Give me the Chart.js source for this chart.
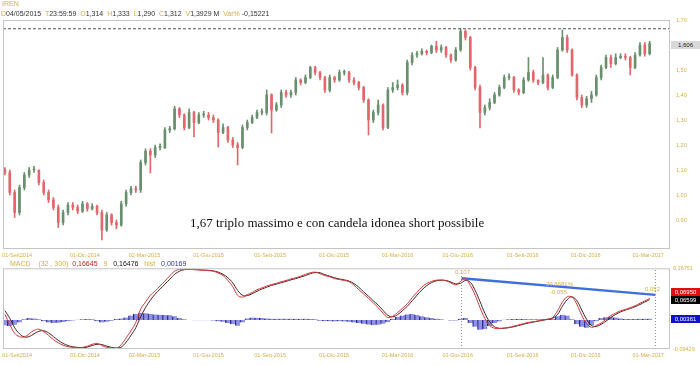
<!DOCTYPE html>
<html>
<head>
<meta charset="utf-8">
<script src="https://cdn.jsdelivr.net/npm/chart.js@4"></script>
<style>
  body { margin: 0; width: 700px; height: 365px; background: #fff; position: relative; overflow: hidden; font-family: "Liberation Sans", Arial, sans-serif; }
  .t { position: absolute; font-size: 7px; line-height: 8px; white-space: nowrap; color: #333; }
  .g { color: #d2b04a; }
  .box { position: absolute; font-size: 6px; line-height: 8px; height: 8px; width: 29px; text-align: center; }
  #pw { position: absolute; left: 0; top: 0; width: 700px; height: 262px; }
  #mw { position: absolute; left: 0; top: 262px; width: 700px; height: 103px; }
</style>
</head>
<body>
<div id="pw"><canvas id="price" width="700" height="262"></canvas></div>
<div id="mw"><canvas id="macd" width="700" height="103"></canvas></div>

<div class="t g" style="left:2px;top:0px;">IREN</div>
<div class="t" style="left:1px;top:10px;"><span class="g">D</span>04/05/2015&nbsp; <span class="g">T</span>23:59:59&nbsp; <span class="g">O</span>1,314&nbsp; <span class="g">H</span>1,333&nbsp; <span class="g">L</span>1,290&nbsp; <span class="g">C</span>1,312&nbsp; <span class="g">V</span>1,3929 M&nbsp; <span class="g">Var%</span> -0,15221</div>
<div class="t" style="left:190px;top:215px;font-family:'Liberation Serif','Times New Roman',serif;font-size:13px;line-height:15px;color:#111;">1,67 triplo massimo e con candela idonea short possibile</div>
<div class="box" style="left:671px;top:41px;background:#d9d9d9;color:#222;">1,606</div>

<div class="t" style="left:10px;top:260px;"><span class="g">MACD&nbsp;&nbsp;&nbsp; (32 , 300)</span>&nbsp; <span style="color:#c02020">0,16645</span>&nbsp;&nbsp; <span class="g">9</span>&nbsp;&nbsp; <span style="color:#111">0,16476</span>&nbsp;&nbsp; <span class="g">hist</span>&nbsp;&nbsp; <span style="color:#3030a0">0,00169</span></div>
<div class="t g" style="left:455px;top:268px;font-size:6px;">0,107</div>
<div class="t g" style="left:546px;top:280px;font-size:6px;">29,8681%</div>
<div class="t g" style="left:550px;top:288px;font-size:6px;">-0,055</div>
<div class="t g" style="left:645px;top:285px;font-size:6px;">0,052</div>
<div class="box" style="left:671px;top:288px;background:#e01010;color:#fff;">0,06950</div>
<div class="box" style="left:671px;top:296px;background:#000;color:#fff;">0,06599</div>
<div class="box" style="left:671px;top:315px;background:#1010d0;color:#fff;">0,00361</div>

<script>
// weekly candles, Aug 2014 -> Mar 2017 (week index 0..133)
const open = [
  1.10, 1.09, 1.01, 0.93, 1.03, 1.08, 1.10, 1.10, 1.05, 1.01,
  0.98, 0.95, 0.89, 0.93, 0.96, 0.95, 0.935, 0.965, 0.945, 0.955,
  0.93, 0.86, 0.92, 0.89, 0.88, 0.965, 1.01, 1.025, 1.02, 1.13,
  1.175, 1.16, 1.19, 1.19, 1.26, 1.265, 1.345, 1.32, 1.27, 1.33,
  1.29, 1.32, 1.32, 1.31, 1.30, 1.25, 1.27, 1.22, 1.20, 1.19,
  1.27, 1.29, 1.31, 1.33, 1.33, 1.40, 1.34, 1.36, 1.41, 1.40,
  1.41, 1.46, 1.45, 1.47, 1.51, 1.49, 1.47, 1.42, 1.47, 1.46,
  1.49, 1.49, 1.46, 1.45, 1.43, 1.38, 1.30, 1.33, 1.36, 1.27,
  1.42, 1.43, 1.44, 1.41, 1.53, 1.56, 1.565, 1.575, 1.57, 1.595,
  1.58, 1.59, 1.56, 1.54, 1.58, 1.655, 1.63, 1.51, 1.43, 1.33,
  1.35, 1.37, 1.40, 1.43, 1.47, 1.47, 1.42, 1.41, 1.46, 1.49,
  1.46, 1.45, 1.48, 1.43, 1.47, 1.58, 1.63, 1.58, 1.48, 1.39,
  1.36, 1.385, 1.40, 1.47, 1.51, 1.55, 1.525, 1.55, 1.555, 1.55,
  1.51, 1.56, 1.60, 1.565
];
const high = [
  1.11, 1.10, 1.02, 1.04, 1.09, 1.11, 1.115, 1.10, 1.06, 1.02,
  0.99, 0.96, 0.94, 0.97, 0.97, 0.96, 0.975, 0.97, 0.965, 0.96,
  0.94, 0.93, 0.925, 0.90, 0.975, 1.02, 1.035, 1.035, 1.14, 1.185,
  1.185, 1.20, 1.205, 1.27, 1.275, 1.355, 1.35, 1.325, 1.345, 1.335,
  1.33, 1.335, 1.33, 1.32, 1.305, 1.285, 1.275, 1.23, 1.21, 1.28,
  1.30, 1.32, 1.34, 1.345, 1.42, 1.405, 1.37, 1.42, 1.42, 1.42,
  1.47, 1.465, 1.48, 1.515, 1.515, 1.495, 1.475, 1.48, 1.475, 1.50,
  1.50, 1.495, 1.47, 1.455, 1.435, 1.385, 1.34, 1.38, 1.365, 1.43,
  1.45, 1.46, 1.445, 1.54, 1.57, 1.575, 1.585, 1.58, 1.60, 1.615,
  1.60, 1.595, 1.565, 1.59, 1.665, 1.66, 1.635, 1.515, 1.44, 1.36,
  1.385, 1.41, 1.44, 1.48, 1.485, 1.475, 1.425, 1.47, 1.55, 1.50,
  1.46, 1.55, 1.485, 1.48, 1.59, 1.66, 1.64, 1.585, 1.485, 1.40,
  1.395, 1.415, 1.48, 1.52, 1.56, 1.56, 1.565, 1.565, 1.565, 1.555,
  1.57, 1.61, 1.61, 1.615
];
const low = [
  1.08, 1.00, 0.91, 0.92, 1.02, 1.07, 1.09, 1.04, 1.00, 0.97,
  0.94, 0.87, 0.88, 0.92, 0.94, 0.925, 0.93, 0.935, 0.94, 0.92,
  0.82, 0.855, 0.88, 0.865, 0.875, 0.955, 1.00, 1.01, 1.01, 1.12,
  1.088, 1.15, 1.18, 1.185, 1.25, 1.26, 1.31, 1.26, 1.265, 1.232,
  1.285, 1.31, 1.30, 1.29, 1.192, 1.245, 1.21, 1.19, 1.12, 1.185,
  1.26, 1.285, 1.305, 1.32, 1.32, 1.248, 1.335, 1.35, 1.39, 1.39,
  1.40, 1.44, 1.445, 1.465, 1.48, 1.46, 1.41, 1.412, 1.45, 1.455,
  1.48, 1.45, 1.44, 1.42, 1.37, 1.24, 1.29, 1.32, 1.26, 1.265,
  1.41, 1.42, 1.40, 1.40, 1.52, 1.55, 1.56, 1.56, 1.565, 1.57,
  1.57, 1.55, 1.53, 1.535, 1.575, 1.62, 1.50, 1.42, 1.268, 1.32,
  1.34, 1.365, 1.395, 1.425, 1.46, 1.41, 1.40, 1.405, 1.455, 1.45,
  1.44, 1.445, 1.42, 1.425, 1.465, 1.575, 1.57, 1.475, 1.38, 1.35,
  1.35, 1.37, 1.395, 1.46, 1.505, 1.51, 1.52, 1.545, 1.54, 1.48,
  1.505, 1.555, 1.555, 1.56
];
const close = [
  1.09, 1.01, 0.93, 1.03, 1.08, 1.10, 1.10, 1.05, 1.01, 0.98,
  0.95, 0.89, 0.93, 0.96, 0.95, 0.935, 0.965, 0.945, 0.955, 0.93,
  0.86, 0.92, 0.89, 0.88, 0.965, 1.01, 1.025, 1.02, 1.13, 1.175,
  1.16, 1.19, 1.19, 1.26, 1.265, 1.345, 1.32, 1.27, 1.33, 1.29,
  1.32, 1.32, 1.31, 1.30, 1.25, 1.27, 1.22, 1.20, 1.19, 1.27,
  1.29, 1.31, 1.33, 1.33, 1.40, 1.34, 1.36, 1.41, 1.40, 1.41,
  1.46, 1.45, 1.47, 1.51, 1.49, 1.47, 1.42, 1.47, 1.46, 1.49,
  1.49, 1.46, 1.45, 1.43, 1.38, 1.30, 1.33, 1.36, 1.27, 1.42,
  1.43, 1.44, 1.41, 1.53, 1.56, 1.565, 1.575, 1.57, 1.595, 1.58,
  1.59, 1.56, 1.54, 1.58, 1.655, 1.63, 1.51, 1.43, 1.33, 1.35,
  1.37, 1.40, 1.43, 1.47, 1.47, 1.42, 1.41, 1.46, 1.49, 1.46,
  1.45, 1.48, 1.43, 1.47, 1.58, 1.63, 1.58, 1.48, 1.39, 1.36,
  1.385, 1.40, 1.47, 1.51, 1.55, 1.525, 1.55, 1.555, 1.55, 1.51,
  1.56, 1.60, 1.565, 1.606
];

const macd = [
  0.018, -0.015, -0.043, -0.054, -0.055, -0.045, -0.034, -0.030, -0.038, -0.050,
  -0.064, -0.074, -0.082, -0.087, -0.089, -0.091, -0.089, -0.085, -0.079, -0.076,
  -0.083, -0.089, -0.091, -0.093, -0.080, -0.058, -0.035, -0.008, 0.035, 0.058,
  0.080, 0.094, 0.110, 0.126, 0.143, 0.158, 0.164, 0.164, 0.164, 0.163,
  0.162, 0.161, 0.160, 0.158, 0.152, 0.144, 0.128, 0.108, 0.080, 0.074,
  0.082, 0.089, 0.098, 0.104, 0.110, 0.115, 0.119, 0.124, 0.128, 0.133,
  0.137, 0.142, 0.148, 0.153, 0.155, 0.150, 0.144, 0.140, 0.134, 0.131,
  0.128, 0.124, 0.113, 0.098, 0.084, 0.070, 0.055, 0.040, 0.022, 0.008,
  0.012, 0.024, 0.038, 0.052, 0.072, 0.090, 0.106, 0.118, 0.125, 0.129,
  0.129, 0.127, 0.120, 0.114, 0.125, 0.135, 0.112, 0.080, 0.040, 0.005,
  -0.018, -0.027, -0.028, -0.026, -0.024, -0.020, -0.016, -0.012, -0.008, -0.006,
  -0.003, 0.000, 0.003, 0.008, 0.030, 0.058, 0.075, 0.074, 0.050, 0.015,
  -0.012, -0.024, -0.018, -0.010, 0.002, 0.014, 0.022, 0.030, 0.034, 0.040,
  0.046, 0.054, 0.062, 0.070
];
const signal = [
  0.030, 0.005, -0.025, -0.045, -0.055, -0.054, -0.045, -0.037, -0.035, -0.042,
  -0.054, -0.066, -0.076, -0.083, -0.087, -0.089, -0.090, -0.088, -0.083, -0.079,
  -0.080, -0.085, -0.089, -0.091, -0.088, -0.072, -0.050, -0.025, 0.010, 0.040,
  0.064, 0.084, 0.100, 0.116, 0.132, 0.148, 0.158, 0.163, 0.164, 0.164,
  0.163, 0.162, 0.161, 0.159, 0.155, 0.148, 0.137, 0.120, 0.096, 0.080,
  0.079, 0.085, 0.093, 0.100, 0.106, 0.112, 0.116, 0.121, 0.125, 0.130,
  0.134, 0.139, 0.144, 0.150, 0.154, 0.153, 0.147, 0.142, 0.137, 0.133,
  0.130, 0.126, 0.118, 0.106, 0.091, 0.077, 0.062, 0.048, 0.031, 0.015,
  0.010, 0.017, 0.030, 0.044, 0.062, 0.080, 0.097, 0.111, 0.121, 0.127,
  0.129, 0.128, 0.123, 0.117, 0.119, 0.128, 0.122, 0.096, 0.060, 0.022,
  -0.006, -0.022, -0.027, -0.027, -0.025, -0.022, -0.018, -0.014, -0.010, -0.007,
  -0.004, -0.001, 0.002, 0.006, 0.018, 0.044, 0.066, 0.075, 0.062, 0.032,
  0.002, -0.018, -0.021, -0.014, -0.004, 0.008, 0.018, 0.026, 0.032, 0.037,
  0.043, 0.050, 0.058, 0.066
];
const hist = [
  -0.018, -0.020, -0.016, -0.008, 0.002, 0.006, 0.005, 0.002, -0.004, -0.008,
  -0.010, -0.009, -0.007, -0.004, -0.002, 0.001, 0.002, 0.003, 0.002, -0.004,
  -0.008, -0.006, -0.003, 0.003, 0.005, 0.008, 0.014, 0.019, 0.023, 0.022,
  0.020, 0.018, 0.017, 0.016, 0.015, 0.012, 0.006, 0.002, 0.000, -0.001,
  -0.001, -0.001, -0.001, -0.002, -0.004, -0.006, -0.010, -0.014, -0.019, -0.008,
  0.005, 0.008, 0.007, 0.006, 0.005, 0.004, 0.004, 0.004, 0.004, 0.004,
  0.004, 0.004, 0.004, 0.003, 0.002, -0.003, -0.004, -0.004, -0.005, -0.004,
  -0.005, -0.006, -0.008, -0.010, -0.012, -0.015, -0.017, -0.016, -0.012, -0.007,
  0.004, 0.010, 0.014, 0.018, 0.019, 0.016, 0.012, 0.009, 0.006, 0.004,
  0.002, 0.000, -0.002, -0.002, 0.004, 0.006, -0.010, -0.022, -0.032, -0.030,
  -0.020, -0.010, -0.005, 0.001, 0.002, 0.003, 0.003, 0.003, 0.002, 0.002,
  0.002, 0.002, 0.002, 0.004, 0.012, 0.017, 0.014, 0.002, -0.014, -0.022,
  -0.025, -0.018, -0.004, 0.006, 0.009, 0.010, 0.008, 0.005, 0.003, 0.003,
  0.003, 0.004, 0.004, 0.004
];

// trendline on MACD (week index, value) and resistance level
const trendX = [94.2, 134.2];
const trendY = [0.1356, 0.0813];
const resistance = 1.665;

const tickWeeks = [2.5, 16.5, 28.8, 42, 54.7, 67.9, 81, 93.4, 106.8, 119.8, 132.7];
const tickLabels = ["01-Sett2014", "01-Dic-2014", "02-Mar-2015", "01-Giu-2015", "01-Sett-2015",
  "01-Dic-2015", "01-Mar-2016", "01-Giu-2016", "01-Sett-2016", "01-Dic-2016", "01-Mar-2017"];
const priceTicks = [0.9, 1.0, 1.1, 1.2, 1.3, 1.4, 1.5, 1.6, 1.7];

const gold = "#d2b04a";
const xMin = -0.4, xMax = 137.2;
const macdMin = -0.09429, macdMax = 0.16751;

const frame = {
  id: "frame",
  afterDraw(chart) {
    const a = chart.chartArea, c = chart.ctx;
    c.save();
    c.strokeStyle = "#c4c4c4";
    c.lineWidth = 1;
    c.strokeRect(a.left + 0.5, a.top + 0.5, a.right - a.left - 1, a.bottom - a.top - 1);
    c.restore();
  }
};

const candleColor = close.map((c, i) => (c >= open[i] ? "#6a8f6e" : "#e2676d"));

const xAxis = (h) => ({
  type: "linear",
  min: xMin,
  max: xMax,
  offset: false,
  grid: { display: false, drawTicks: false },
  border: { display: false },
  afterBuildTicks: (s) => { s.ticks = tickWeeks.map((v) => ({ value: v })); },
  afterFit: (s) => { s.height = h; s.paddingLeft = 0; s.paddingRight = 0; },
  ticks: {
    autoSkip: false,
    maxRotation: 0,
    padding: 3,
    color: gold,
    font: { size: 5.5, family: "Liberation Sans" },
    callback: (v, i) => tickLabels[i],
  },
});

new Chart(document.getElementById("price"), {
  type: "bar",
  data: {
    datasets: [
      {
        type: "line",
        data: [{ x: xMin, y: resistance }, { x: xMax, y: resistance }],
        borderColor: "#555",
        borderWidth: 1,
        borderDash: [3, 2],
        pointRadius: 0,
      },
      {
        data: close.map((c, i) => ({ x: i, y: [low[i], high[i]] })),
        backgroundColor: candleColor,
        barThickness: 1,
        grouped: false,
      },
      {
        data: close.map((c, i) => ({ x: i, y: [open[i], c] })),
        backgroundColor: candleColor,
        barThickness: 2,
        minBarLength: 1,
        grouped: false,
      },
    ],
  },
  options: {
    responsive: false,
    animation: false,
    layout: { padding: { left: 3, top: 20, right: 0, bottom: 0 } },
    plugins: { legend: { display: false }, tooltip: { enabled: false } },
    scales: {
      x: xAxis(13),
      y: {
        position: "right",
        min: 0.784,
        max: 1.7,
        grid: { display: false, drawTicks: false },
        border: { display: false },
        afterBuildTicks: (s) => { s.ticks = priceTicks.map((v) => ({ value: v })); },
        afterFit: (s) => { s.width = 30; },
        ticks: {
          padding: 6,
          color: gold,
          font: { size: 5.5, family: "Liberation Sans" },
          callback: (v) => v.toFixed(2).replace(".", ","),
        },
      },
    },
  },
  plugins: [frame],
});

new Chart(document.getElementById("macd"), {
  type: "bar",
  data: {
    datasets: [
      {
        type: "line",
        data: [{ x: trendX[0], y: macdMin }, { x: trendX[0], y: macdMax }],
        borderColor: "#8a8a8a",
        borderWidth: 1,
        borderDash: [1, 2],
        pointRadius: 0,
      },
      {
        type: "line",
        data: [{ x: trendX[1], y: macdMin }, { x: trendX[1], y: macdMax }],
        borderColor: "#8a8a8a",
        borderWidth: 1,
        borderDash: [1, 2],
        pointRadius: 0,
      },
      {
        type: "line",
        data: macd.map((v, i) => ({ x: i, y: v })),
        borderColor: "#d0383c",
        borderWidth: 1,
        pointRadius: 0,
        tension: 0.4,
      },
      {
        type: "line",
        data: signal.map((v, i) => ({ x: i, y: v })),
        borderColor: "#4a2424",
        borderWidth: 1,
        pointRadius: 0,
        tension: 0.4,
      },
      {
        type: "line",
        data: trendX.map((x, i) => ({ x: x, y: trendY[i] })),
        borderColor: "#3f6fdc",
        borderWidth: 2.5,
        pointRadius: 0,
      },
      {
        data: hist.map((v, i) => ({ x: i, y: v })),
        backgroundColor: "rgba(110,110,220,0.75)",
        borderColor: "#2a2a90",
        borderWidth: { left: 1, right: 0, top: 0, bottom: 0 },
        borderSkipped: false,
        barThickness: 5,
        grouped: false,
      },
    ],
  },
  options: {
    responsive: false,
    animation: false,
    layout: { padding: { left: 3, top: 5, right: 0, bottom: 0 } },
    plugins: { legend: { display: false }, tooltip: { enabled: false } },
    scales: {
      x: xAxis(16),
      y: {
        position: "right",
        min: macdMin,
        max: macdMax,
        grid: { display: false, drawTicks: false },
        border: { display: false },
        afterBuildTicks: (s) => { s.ticks = [{ value: macdMin }, { value: macdMax }]; },
        afterFit: (s) => { s.width = 30; },
        ticks: {
          padding: 3,
          color: gold,
          font: { size: 5.5, family: "Liberation Sans" },
          callback: (v) => v.toFixed(5).replace(".", ","),
        },
      },
    },
  },
  plugins: [frame],
});
</script>
</body>
</html>
